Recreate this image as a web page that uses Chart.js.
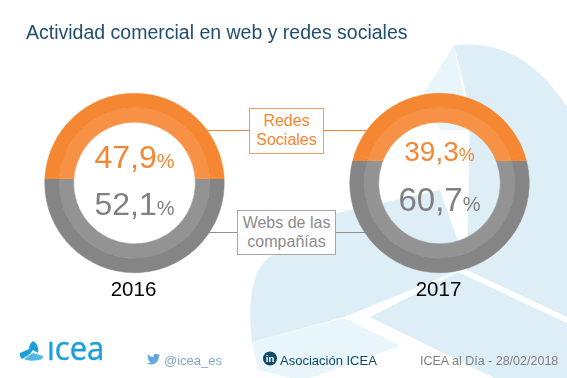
<!DOCTYPE html>
<html>
<head>
<meta charset="utf-8">
<script src="https://cdn.jsdelivr.net/npm/chart.js@4"></script>
<style>
  html, body { margin:0; padding:0; background:#fff; }
  #page { position:relative; width:567px; height:378px; overflow:hidden; font-family:"Liberation Sans", Arial, sans-serif; }
  #page svg, #page canvas, .line, .box { position:absolute; }
  .line { height:1.5px; }
  .box { box-sizing:border-box; background:#fff; border:1.5px solid; text-align:center; font-size:16px; line-height:19.5px; padding-top:1.5px; white-space:pre-line; }
</style>
</head>
<body>
<div id="page">
  <!-- marca de agua de fondo -->
  <svg width="567" height="378" style="left:0;top:0">
    <path fill="#e8f5fb" d="M454 45 L424 93 L440 130 L470 130 Z"/>
    <path fill="#ddeef7" d="M454 45 C490 42 530 50 567 107 L567 317 L467 270 L470 110 Z"/>
    <path fill="#ddeef7" d="M337 213 L268 258 C250 275 248 305 252 342 L344 317 L467 267 L440 190 Z"/>
    <path fill="#e8f5fb" d="M252 342 L344 318 L400 346 L310 378 L290 378 L258 370 Z"/>
    <path fill="#ddeef7" d="M370 317 L458 272 L567 323 L567 378 L494 378 Z"/>
  </svg>

  <div class="line" style="left:190px;width:180px;top:129.5px;background:#f58632"></div>
  <div class="line" style="left:190px;width:180px;top:231.5px;background:#8f8f8f"></div>

  <canvas id="c0" width="185" height="184" style="left:42px;top:91px"></canvas>
  <canvas id="c1" width="185" height="184" style="left:347px;top:91px"></canvas>

  <div class="box" id="labelRedes" style="left:249px;top:108px;width:75px;height:46px;color:#f58632;border-color:#f79a58"></div>
  <div class="box" id="labelWebs" style="left:237px;top:210px;width:99px;height:45px;color:#8c8c8c;border-color:#a6a6a6"></div>

  <svg id="txt" width="567" height="378" style="left:0;top:0">
    <text x="26" y="39" font-size="19.5" fill="#1f4e6f">Actividad comercial en web y redes sociales</text>

    <!-- logo -->
    <path fill="#1a9fdc" d="M33 341 C37 343 39 348 38 353 L33 350 L30 354 L22 359 C20 357 19 355 20 353 L29 349 C29 346 30 343 33 341 Z"/>
    <path fill="#4fb8e8" d="M24 359 L33 353 L43 356 C43 359 41 360 38 360 C33 361 28 361 24 359 Z"/>
    <text x="47" y="360" font-size="33" fill="#1a9fdc" stroke="#1a9fdc" stroke-width=".4" font-family="Open Sans" transform="translate(47 0) scale(.94 1) translate(-47 0)">ıcea</text>

    <path fill="#62a8dc" transform="translate(147 352.5) scale(.55)" d="M23.953 4.57a10 10 0 01-2.825.775 4.958 4.958 0 002.163-2.723c-.951.555-2.005.959-3.127 1.184a4.92 4.92 0 00-8.384 4.482C7.69 8.095 4.067 6.13 1.64 3.162a4.822 4.822 0 00-.666 2.475c0 1.71.87 3.213 2.188 4.096a4.904 4.904 0 01-2.228-.616v.06a4.923 4.923 0 003.946 4.827 4.996 4.996 0 01-2.212.085 4.936 4.936 0 004.604 3.417 9.867 9.867 0 01-6.102 2.105c-.39 0-.779-.023-1.17-.067a13.995 13.995 0 007.557 2.209c9.053 0 13.998-7.496 13.998-13.985 0-.21 0-.42-.015-.63A9.935 9.935 0 0024 4.59z"/>
    <text x="164" y="365" font-size="13" fill="#7fa9c9">@icea_es</text>

    <circle cx="270" cy="358.5" r="7" fill="#0f4a66"/>
    <text x="270" y="362" font-size="9.5" font-weight="bold" fill="#fff" text-anchor="middle">in</text>
    <text x="280" y="365" font-size="13" fill="#0f4a66">Asociación ICEA</text>

    <text x="420" y="365" font-size="12.5" fill="#808080">ICEA al Día - 28/02/2018</text>
  </svg>
</div>

<script>
const years = ["2016", "2017"];
const categories = ["Redes\nSociales", "Webs de las\ncompañías"];
const redesSociales = [47.9, 39.3];
const websCompanias = [52.1, 60.7];

const ORANGE = ["#f58632", "#f79146"];   // anillo exterior / interior
const GRAY   = ["#858585", "#939393"];
const TXT_ORANGE = "#f58632";
const TXT_GRAY   = "#808080";

// tamaños de letra y línea base de cada cifra
const layout = [
  { cx:134.5, year:296, top:{ y:168, size:32, pct:20 }, bottom:{ y:215, size:32, pct:20 } },
  { cx:439.5, year:296, top:{ y:160.5, size:28, pct:18 }, bottom:{ y:210.5, size:33, pct:20 } }
];

document.getElementById("labelRedes").textContent = categories[0];
document.getElementById("labelWebs").textContent = categories[1];

// el corte del original es horizontal: degradado con parada dura a la altura del valor
function ringFill(ctx, ring, value){
  const area = ctx.chart.chartArea;
  if (!area) return ORANGE[ring];
  const cy = (area.top + area.bottom) / 2;
  const r = (area.bottom - area.top) / 2;
  const elev = (50 - value) / 100 * Math.PI;
  const cutY = cy - 68 * Math.sin(elev);
  const g = ctx.chart.ctx.createLinearGradient(0, cy - r, 0, cy + r);
  const t = (cutY - (cy - r)) / (2 * r);
  g.addColorStop(0, ORANGE[ring]);
  g.addColorStop(t, ORANGE[ring]);
  g.addColorStop(t, GRAY[ring]);
  g.addColorStop(1, GRAY[ring]);
  return g;
}

years.forEach((year, i) => {
  const data = [redesSociales[i], websCompanias[i]];
  const ds = ring => ({
    data,
    backgroundColor: ctx => ringFill(ctx, ring, redesSociales[i]),
    borderColor: ctx => ringFill(ctx, ring, redesSociales[i]),
    borderWidth: 0.5,
    hoverOffset: 0
  });
  new Chart(document.getElementById("c" + i), {
    type: "doughnut",
    data: { labels: categories, datasets: [ds(0), ds(1)] },
    options: {
      responsive: false,
      animation: false,
      cutout: "67.8%",
      rotation: -redesSociales[i] * 1.8,
      layout: { padding: 2 },
      plugins: { legend: { display: false }, tooltip: { enabled: false } }
    }
  });
});

// cifras centrales y años
const svg = document.getElementById("txt");
function addValue(cx, spec, value, color){
  const t = document.createElementNS("http://www.w3.org/2000/svg", "text");
  t.setAttribute("x", cx);
  t.setAttribute("y", spec.y);
  t.setAttribute("text-anchor", "middle");
  t.setAttribute("fill", color);
  t.setAttribute("font-size", spec.size);
  t.appendChild(document.createTextNode(value.toFixed(1).replace(".", ",")));
  const p = document.createElementNS("http://www.w3.org/2000/svg", "tspan");
  p.setAttribute("font-size", spec.pct);
  p.textContent = "%";
  t.appendChild(p);
  svg.appendChild(t);
}
years.forEach((year, i) => {
  const l = layout[i];
  addValue(l.cx, l.top, redesSociales[i], TXT_ORANGE);
  addValue(l.cx, l.bottom, websCompanias[i], TXT_GRAY);
  const y = document.createElementNS("http://www.w3.org/2000/svg", "text");
  y.setAttribute("x", l.cx - 1);
  y.setAttribute("y", l.year);
  y.setAttribute("text-anchor", "middle");
  y.setAttribute("font-size", 20.5);
  y.setAttribute("fill", "#000");
  y.textContent = year;
  svg.appendChild(y);
});
</script>
</body>
</html>
